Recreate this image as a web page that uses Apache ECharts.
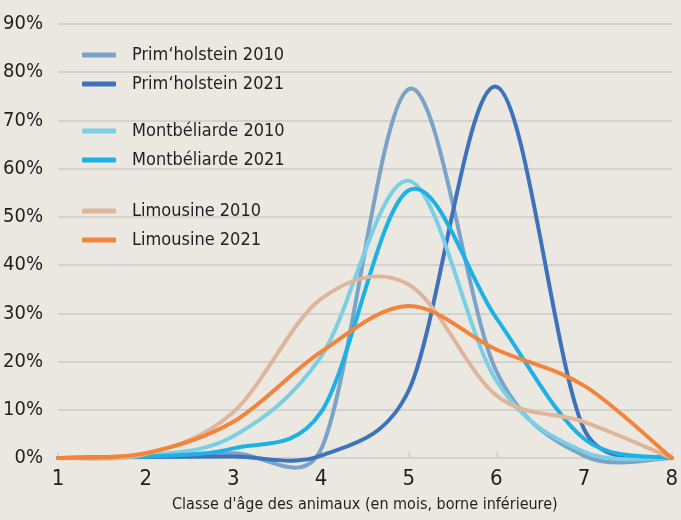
<!DOCTYPE html>
<html>
<head>
<meta charset="utf-8">
<script src="https://cdn.jsdelivr.net/npm/echarts@6/dist/echarts.min.js"></script>
<style>
  html, body { margin: 0; padding: 0; background: #ebe8e2; }
  #chart { width: 681px; height: 520px; }
</style>
</head>
<body>
<div id="chart"></div>
<script>
// classes d'âge (mois, borne inférieure)
const ages = ['1', '2', '3', '4', '5', '6', '7', '8'];

// parts (%) par classe d'âge
const primHolstein2010 = [0, 0.3, 1, 1.8, 76.5, 18, 0.5, 0];
const primHolstein2021 = [0, 0.2, 0.3, 0.5, 14, 77, 6, 0];
const montbeliarde2010 = [0, 0.5, 4.5, 21, 57.5, 16, 1.3, 0];
const montbeliarde2021 = [0, 0.3, 2, 9.5, 55.5, 29, 4, 0];
const limousine2010 = [0, 0.8, 9.5, 33, 36, 13, 7.5, 0];
const limousine2021 = [0, 1, 7.5, 22, 31.5, 22.5, 15, 0];

const FONT = '"DejaVu Sans Condensed", "Liberation Sans Narrow", "Liberation Sans", sans-serif';
const TEXT = '#231f20';

const seriesDefs = [
  { name: 'Prim\u2018holstein 2010', data: primHolstein2010, color: '#7aa3c8' },
  { name: 'Prim\u2018holstein 2021', data: primHolstein2021, color: '#3d73bb' },
  { name: 'Montbéliarde 2010', data: montbeliarde2010, color: '#7bcfe4' },
  { name: 'Montbéliarde 2021', data: montbeliarde2021, color: '#1eb1e6' },
  { name: 'Limousine 2010', data: limousine2010, color: '#dfb59b' },
  { name: 'Limousine 2021', data: limousine2021, color: '#f2843b' }
];

// courbe lissée façon tableur : bezier passant par les points,
// bras de contrôle = 1/6 de la corde voisine, plafonnés à la moitié du segment
function smoothPath(pts) {
  const dist = (a, b) => Math.hypot(b[0] - a[0], b[1] - a[1]);
  let d = 'M' + pts[0][0] + ' ' + pts[0][1];
  for (let i = 0; i < pts.length - 1; i++) {
    const p0 = pts[Math.max(i - 1, 0)];
    const p1 = pts[i];
    const p2 = pts[i + 1];
    const p3 = pts[Math.min(i + 2, pts.length - 1)];
    const d12 = dist(p1, p2);
    const d02 = dist(p0, p2) || 1;
    const d13 = dist(p1, p3) || 1;
    const f0 = Math.min(1 / 6, d12 / (2 * d02));
    const f1 = Math.min(1 / 6, d12 / (2 * d13));
    const c1 = [p1[0] + f0 * (p2[0] - p0[0]), p1[1] + f0 * (p2[1] - p0[1])];
    const c2 = [p2[0] - f1 * (p3[0] - p1[0]), p2[1] - f1 * (p3[1] - p1[1])];
    d += ' C' + c1[0] + ' ' + c1[1] + ' ' + c2[0] + ' ' + c2[1] + ' ' + p2[0] + ' ' + p2[1];
  }
  return d;
}

const series = seriesDefs.map(s => ({
  name: s.name,
  type: 'custom',
  coordinateSystem: 'cartesian2d',
  data: s.data.map((v, i) => [i, v]),
  encode: { x: 0, y: 1 },
  itemStyle: { color: s.color },
  clip: false,
  renderItem: function (params, api) {
    if (params.dataIndex !== 0) return null;
    const pts = s.data.map((v, i) => api.coord([i, v]));
    return {
      type: 'path',
      shape: { pathData: smoothPath(pts) },
      style: { fill: null, stroke: s.color, lineWidth: 4, lineCap: 'round', lineJoin: 'round' }
    };
  }
}));

const legendBase = {
  orient: 'vertical',
  left: 82,
  padding: 0,
  itemWidth: 34,
  itemHeight: 5,
  itemGap: 9,
  icon: 'roundRect',
  selectedMode: false,
  textStyle: {
    fontFamily: FONT,
    fontSize: 18,
    lineHeight: 20,
    color: TEXT,
    padding: [0, 0, 0, 11]
  }
};

const chart = echarts.init(document.getElementById('chart'), null, { renderer: 'canvas' });

chart.setOption({
  backgroundColor: '#ebe8e2',
  animation: false,
  grid: { left: 58, right: 7, top: 24, bottom: 62, containLabel: false },
  legend: [
    Object.assign({}, legendBase, { top: 45, data: [seriesDefs[0].name, seriesDefs[1].name] }),
    Object.assign({}, legendBase, { top: 121, data: [seriesDefs[2].name, seriesDefs[3].name] }),
    Object.assign({}, legendBase, { top: 201, data: [seriesDefs[4].name, seriesDefs[5].name] })
  ],
  xAxis: {
    type: 'category',
    data: ages,
    boundaryGap: false,
    name: 'Classe d\'âge des animaux (en mois, borne inférieure)',
    nameLocation: 'middle',
    nameGap: 39,
    nameTextStyle: { fontFamily: FONT, fontSize: 16, color: TEXT },
    axisLine: { lineStyle: { color: '#d4d2cd', width: 2 } },
    axisTick: { inside: true, length: 6, lineStyle: { color: '#d4d2cd', width: 2 } },
    axisLabel: { fontFamily: FONT, fontSize: 22, color: TEXT, margin: 10 }
  },
  yAxis: {
    type: 'value',
    min: 0,
    max: 90,
    interval: 10,
    axisLine: { show: false },
    axisTick: { show: false },
    axisLabel: {
      formatter: '{value}%',
      fontFamily: FONT,
      fontSize: 20,
      color: TEXT,
      margin: 15
    },
    splitLine: { lineStyle: { color: '#d4d2cd', width: 2 } }
  },
  series: series
});
</script>
</body>
</html>
